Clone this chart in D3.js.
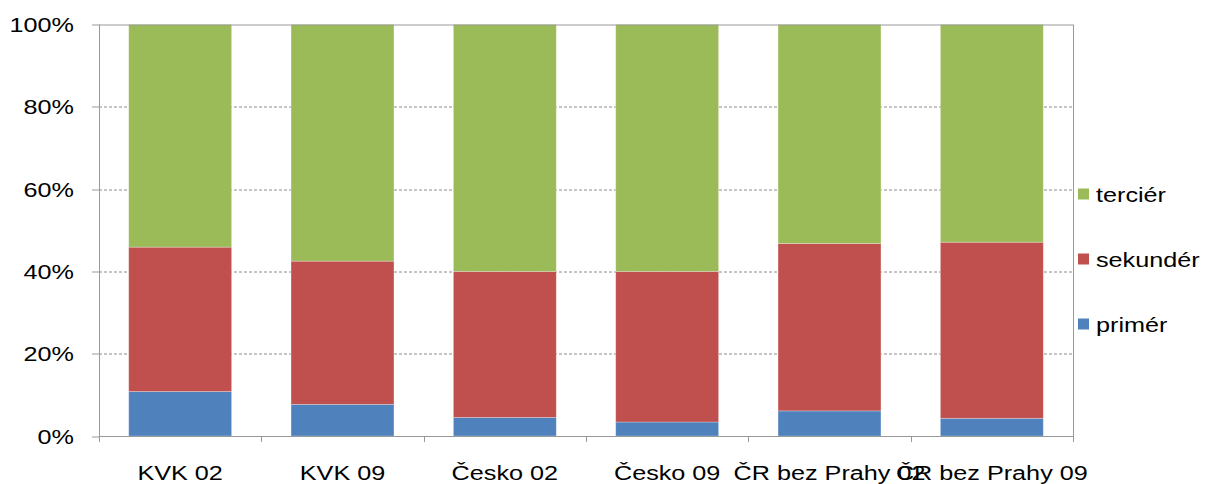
<!DOCTYPE html>
<html>
<head>
<meta charset="utf-8">
<script src="https://cdn.jsdelivr.net/npm/d3@7"></script>
<style>
  body { margin: 0; background: #fff; }
  svg text { font-family: "Liberation Sans", Arial, sans-serif; fill: #000; }
</style>
</head>
<body>
<div id="chart"></div>
<script>
// categories and series (percent shares)
const categories = ["KVK 02", "KVK 09", "Česko 02", "Česko 09", "ČR bez Prahy 02", "ČR bez Prahy 09"];
const primer   = [10.8, 7.7, 4.5, 3.4, 6.1, 4.3];
const sekunder = [35.1, 34.8, 35.5, 36.6, 40.7, 42.8];
const tercier  = [54.1, 57.5, 60.0, 60.0, 53.2, 52.9];
const seriesNames = ["primér", "sekundér", "terciér"];
const seriesColors = ["#4F81BD", "#C0504D", "#9BBB59"];
const yTicks = [0, 20, 40, 60, 80, 100];

const width = 1207, height = 484;
const margin = {top: 24.5, left: 99, right: 134, bottom: 48};
const plotWidth = width - margin.left - margin.right;
const plotHeight = height - margin.top - margin.bottom;
const SX = 1.2; // excel-ish stretched text

const rows = categories.map((c, i) => ({cat: c, "primér": primer[i], "sekundér": sekunder[i], "terciér": tercier[i]}));
const stacked = d3.stack().keys(seriesNames)(rows);

const svg = d3.select("#chart").append("svg")
    .attr("width", width)
    .attr("height", height);

const xScale = d3.scaleBand()
    .domain(categories)
    .range([0, plotWidth])
    .paddingInner(0.366)
    .paddingOuter(0.183);

const xOuter = d3.scaleBand()
    .domain(categories)
    .range([0, plotWidth]);

const yScale = d3.scaleLinear()
    .domain([0, 100])
    .range([plotHeight, 0]);

const plot = svg.append("g")
    .attr("transform", `translate(${margin.left}, ${margin.top})`);

/***** GRIDLINES *****/
plot.append("g")
    .selectAll("line")
    .data(yTicks.filter(d => d > 0 && d < 100))
    .join("line")
    .attr("x1", 0)
    .attr("x2", plotWidth)
    .attr("y1", d => Math.round(yScale(d)) + 0.5)
    .attr("y2", d => Math.round(yScale(d)) + 0.5)
    .attr("stroke", "#8c8c8c")
    .attr("stroke-dasharray", "3,2")
    .attr("stroke-width", 1);

/***** BARS *****/
plot.append("g")
    .selectAll("g")
    .data(stacked)
    .join("g")
    .attr("fill", (d, i) => seriesColors[i])
    .selectAll("rect")
    .data(d => d)
    .join("rect")
    .attr("x", d => xScale(d.data.cat))
    .attr("y", d => yScale(d[1]))
    .attr("width", xScale.bandwidth())
    .attr("height", d => yScale(d[0]) - yScale(d[1]))
    .attr("stroke", "#ffffff")
    .attr("stroke-opacity", 0.35)
    .attr("stroke-width", 0.8);

/***** BORDER, AXES *****/
const axisColor = "#999";
plot.append("line")
    .attr("x1", 0).attr("x2", plotWidth)
    .attr("y1", 0.5).attr("y2", 0.5)
    .attr("stroke", axisColor);
plot.append("line")
    .attr("x1", plotWidth + 0.5).attr("x2", plotWidth + 0.5)
    .attr("y1", 0).attr("y2", plotHeight)
    .attr("stroke", axisColor);
plot.append("line")
    .attr("x1", 0.5).attr("x2", 0.5)
    .attr("y1", 0).attr("y2", plotHeight)
    .attr("stroke", axisColor);
plot.append("line")
    .attr("x1", 0).attr("x2", plotWidth)
    .attr("y1", plotHeight + 0.5).attr("y2", plotHeight + 0.5)
    .attr("stroke", axisColor);

// y ticks and labels
const yAxis = plot.append("g");
yAxis.selectAll("line")
    .data(yTicks)
    .join("line")
    .attr("x1", -7).attr("x2", 0)
    .attr("y1", d => Math.round(yScale(d)) + 0.5)
    .attr("y2", d => Math.round(yScale(d)) + 0.5)
    .attr("stroke", axisColor);
yAxis.selectAll("text")
    .data(yTicks)
    .join("text")
    .attr("transform", d => `translate(-25, ${yScale(d) + 7.5}) scale(${SX}, 1)`)
    .attr("text-anchor", "end")
    .style("font-size", "21px")
    .text(d => d + "%");

// x ticks (category boundaries) and labels
const xAxis = plot.append("g");
xAxis.selectAll("line")
    .data(categories.map(c => xOuter(c)).concat([plotWidth]))
    .join("line")
    .attr("x1", d => Math.round(d) + 0.5)
    .attr("x2", d => Math.round(d) + 0.5)
    .attr("y1", plotHeight)
    .attr("y2", plotHeight + 6)
    .attr("stroke", axisColor);
xAxis.selectAll("text")
    .data(categories)
    .join("text")
    .attr("transform", d => `translate(${xOuter(d) + xOuter.bandwidth() / 2}, ${plotHeight + 44}) scale(${SX}, 1)`)
    .attr("text-anchor", "middle")
    .style("font-size", "21px")
    .text(d => d);

/***** LEGEND *****/
const legendY = {"terciér": 194, "sekundér": 259, "primér": 324};
const legend = svg.append("g");
const legendItems = legend.selectAll("g")
    .data(seriesNames)
    .join("g")
    .attr("transform", d => `translate(1078, ${legendY[d]})`);
legendItems.append("rect")
    .attr("x", 0).attr("y", -5.5)
    .attr("width", 11).attr("height", 11)
    .attr("fill", (d, i) => seriesColors[i]);
legendItems.append("text")
    .attr("transform", `translate(18, 7.5) scale(${SX}, 1)`)
    .style("font-size", "21px")
    .text(d => d);
</script>
</body>
</html>
